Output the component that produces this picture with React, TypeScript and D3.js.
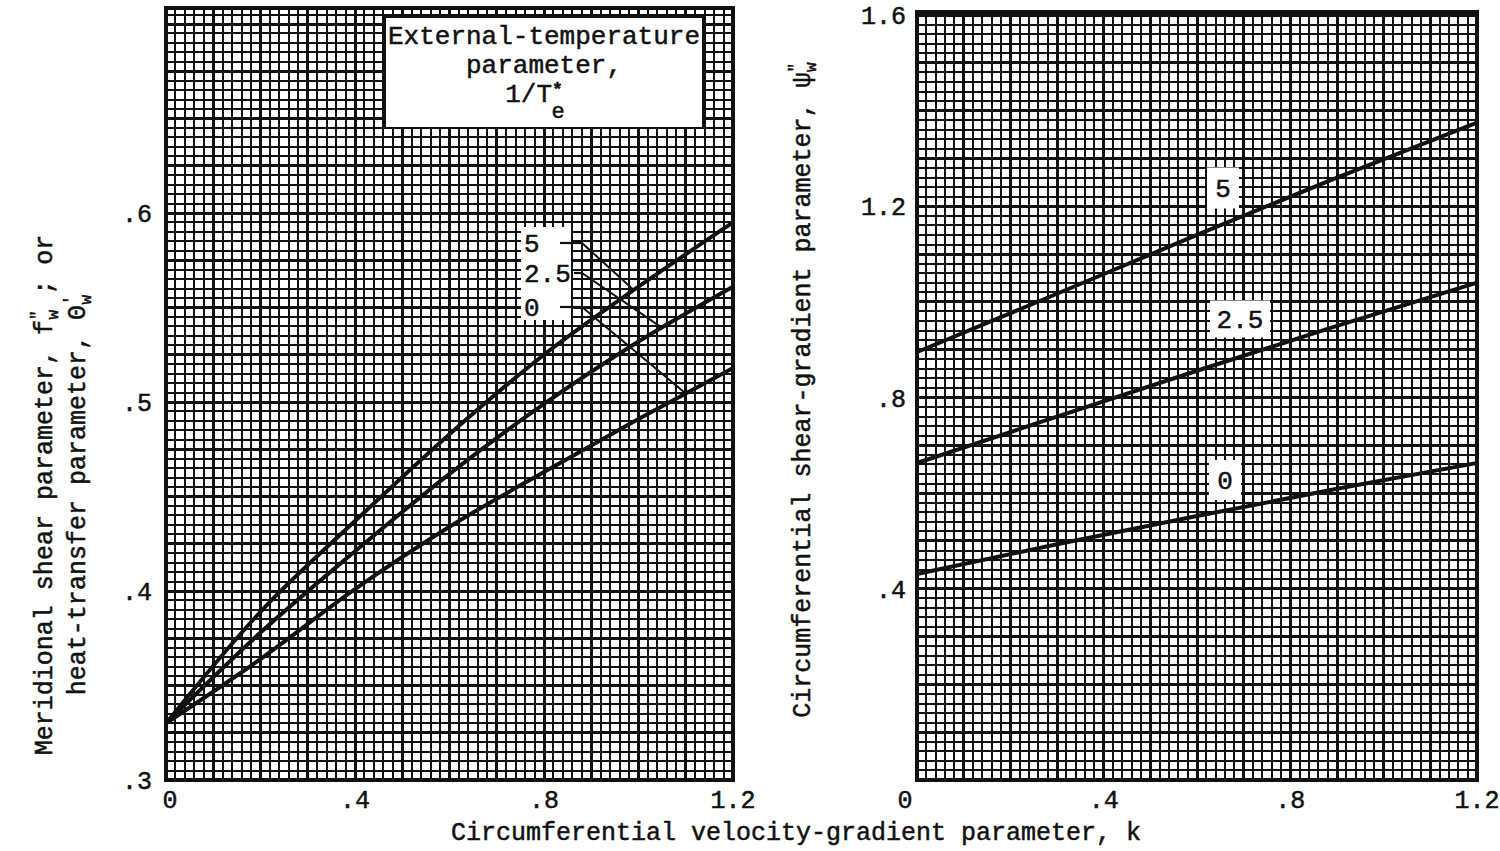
import * as d3 from 'd3';

// left chart: meridional shear / heat-transfer parameter vs k
const kLeft = [0, 0.2, 0.4, 0.6, 0.8, 1.0, 1.2];
const fw5 = [0.33, 0.389, 0.437, 0.483, 0.525, 0.561, 0.595];
const fw25 = [0.33, 0.378, 0.421, 0.462, 0.499, 0.532, 0.561];
const fw0 = [0.33, 0.364, 0.401, 0.434, 0.463, 0.491, 0.518];

// right chart: circumferential shear-gradient parameter vs k
const kRight = [0, 0.3, 0.6, 0.9, 1.2];
const psi5 = [0.895, 1.017, 1.14, 1.26, 1.375];
const psi25 = [0.663, 0.76, 0.856, 0.95, 1.04];
const psi0 = [0.431, 0.493, 0.552, 0.609, 0.663];

const curveNames = ['5', '2.5', '0'];
const xTicks = [0, 0.4, 0.8, 1.2];
const xTickLabels = ['0', '.4', '.8', '1.2'];
const leftYTicks = [0.3, 0.4, 0.5, 0.6];
const leftYLabels = ['.3', '.4', '.5', '.6'];
const rightYTicks = [0.4, 0.8, 1.2, 1.6];
const rightYLabels = ['.4', '.8', '1.2', '1.6'];

// k where each left leader line meets its curve
const leaderK = [0.99, 1.05, 1.1];

const FONT = '"Liberation Mono", "DejaVu Sans Mono", monospace';

const xL = d3.scaleLinear().domain([0, 1.2]).range([166, 733]);
const yL = d3.scaleLinear().domain([0.3, 0.6]).range([780, 213]);
const xR = d3.scaleLinear().domain([0, 1.2]).range([917, 1477]);
const yR = d3.scaleLinear().domain([0, 1.6]).range([780, 15]);

const interp = (ks: number[], vs: number[], k: number) => {
  const i = Math.min(ks.length - 2, Math.max(0, d3.bisectRight(ks, k) - 1));
  const t = (k - ks[i]) / (ks[i + 1] - ks[i]);
  return vs[i] + t * (vs[i + 1] - vs[i]);
};

interface GridProps {
  x: d3.ScaleLinear<number, number>
  y: d3.ScaleLinear<number, number>
  xStep: number
  xCount: number
  yStart: number
  yStep: number
  yCount: number
  top: number
}

const Grid = ({ x, y, xStep, xCount, yStart, yStep, yCount, top }: GridProps) => {
  const [x0, x1] = x.range();
  const bottom = y.range()[0];
  return (
    <g stroke="#111" shapeRendering="crispEdges">
      {d3.range(xCount + 1).map(i => (
        <line key={'v' + i} x1={x(i * xStep)} x2={x(i * xStep)} y1={top} y2={bottom}
          strokeWidth={i % 5 === 0 ? 3 : 2} />
      ))}
      {d3.range(yCount + 1).map(i => {
        const yy = y(yStart + i * yStep);
        if (yy < top - 0.5) return null;
        return (
          <line key={'h' + i} x1={x0} x2={x1} y1={yy} y2={yy}
            strokeWidth={i % 5 === 0 ? 3 : 2} />
        );
      })}
      <rect x={x0} y={top} width={x1 - x0} height={bottom - top} fill="none" strokeWidth={4} />
    </g>
  );
};

const App = () => {
  const lineL = d3.line<number>().x((_, i) => xL(kLeft[i])).y(d => yL(d)).curve(d3.curveMonotoneX);
  const lineR = d3.line<number>().x((_, i) => xR(kRight[i])).y(d => yR(d)).curve(d3.curveMonotoneX);
  const leftSeries = [fw5, fw25, fw0];
  const rightSeries = [psi5, psi25, psi0];

  const leftLabelY = [243, 273, 307];
  const rightLabelPos = [
    { x: 1223, y: 188, w: 32, h: 41 },
    { x: 1240, y: 319, w: 60, h: 37 },
    { x: 1225, y: 480, w: 32, h: 40 },
  ];

  const ink = { fill: '#111', stroke: '#111', strokeWidth: 0.5 };

  return (
    <svg width={1500} height={851} style={{ position: 'absolute', left: 0, top: 0, background: '#fff' }}
      fontFamily={FONT}>
      <rect width={1500} height={851} fill="#fff" />

      {/* left chart */}
      <Grid x={xL} y={yL} xStep={0.02} xCount={60} yStart={0.3} yStep={0.005} yCount={82} top={8} />

      <rect x={385} y={17} width={318} height={111} fill="#fff" stroke="#111" strokeWidth={2} />
      <g fontSize={26} textAnchor="middle" {...ink}>
        <text x={544} y={44}>External-temperature</text>
        <text x={544} y={73}>parameter,</text>
        <text x={534} y={102}>1/T<tspan fontSize={18} fontWeight="bold" dy={-7}>*</tspan></text>
        <text x={558} y={118} fontSize={22}>e</text>
      </g>

      {leftSeries.map((s, i) => (
        <path key={i} d={lineL(s) ?? ''} fill="none" stroke="#111" strokeWidth={4} strokeLinejoin="round" />
      ))}

      <rect x={521} y={227} width={50} height={93} fill="#fff" />
      {curveNames.map((name, i) => {
        const y0 = leftLabelY[i];
        const textW = name.length * 15;
        const sx = Math.max(526 + textW + 3, 560);
        const tk = leaderK[i];
        const tx = xL(tk);
        const ty = yL(interp(kLeft, leftSeries[i], tk));
        return (
          <g key={name}>
            <text x={524} y={y0 + 9} fontSize={26} {...ink}>{name}</text>
            <line x1={sx} x2={582} y1={y0} y2={y0} stroke="#111" strokeWidth={2.2} />
            <line x1={582} x2={tx} y1={y0} y2={ty} stroke="#111" strokeWidth={2} />
          </g>
        );
      })}

      {/* right chart */}
      <Grid x={xR} y={yR} xStep={0.02} xCount={60} yStart={0} yStep={0.02} yCount={80} top={12} />

      {rightSeries.map((s, i) => (
        <path key={i} d={lineR(s) ?? ''} fill="none" stroke="#111" strokeWidth={4} strokeLinejoin="round" />
      ))}

      {curveNames.map((name, i) => {
        const p = rightLabelPos[i];
        return (
          <g key={'r' + name}>
            <rect x={p.x - p.w / 2} y={p.y - p.h / 2} width={p.w} height={p.h} fill="#fff" />
            <text x={p.x} y={p.y + 9} fontSize={26} textAnchor="middle" {...ink}>{name}</text>
          </g>
        );
      })}

      {/* tick labels */}
      <g fontSize={25} {...ink}>
        {xTicks.map((t, i) => (
          <text key={'xl' + i} x={xL(t) + (i === 0 ? 4 : 0)} y={808} textAnchor="middle">{xTickLabels[i]}</text>
        ))}
        {xTicks.map((t, i) => (
          <text key={'xr' + i} x={xR(t) - (i === 0 ? 12 : 0)} y={808} textAnchor="middle">{xTickLabels[i]}</text>
        ))}
        {leftYTicks.map((t, i) => (
          <text key={'yl' + i} x={152} y={yL(t) + 9} textAnchor="end">{leftYLabels[i]}</text>
        ))}
        {rightYTicks.map((t, i) => (
          <text key={'yr' + i} x={906} y={yR(t) + 9} textAnchor="end">{rightYLabels[i]}</text>
        ))}
      </g>

      {/* axis titles */}
      <g fontSize={25} {...ink}>
        <text x={796} y={840} textAnchor="middle">Circumferential velocity-gradient parameter, k</text>
        <text transform="translate(52,495) rotate(-90)" textAnchor="middle">
          Meridional shear parameter, f<tspan fontSize={16} dy={-10}>"</tspan><tspan fontSize={16} dx={-9} dy={16}>w</tspan><tspan dy={-6}> ; or</tspan>
        </text>
        <text transform="translate(85,495) rotate(-90)" textAnchor="middle">
          heat-transfer parameter, Θ<tspan fontSize={16} dy={-10}>'</tspan><tspan fontSize={16} dx={-9} dy={16}>w</tspan>
        </text>
        <text transform="translate(810,390) rotate(-90)" textAnchor="middle">
          Circumferential shear-gradient parameter, ψ<tspan fontSize={16} dy={-10}>"</tspan><tspan fontSize={16} dx={-9} dy={16}>w</tspan>
        </text>
      </g>
    </svg>
  );
};

export default App;
